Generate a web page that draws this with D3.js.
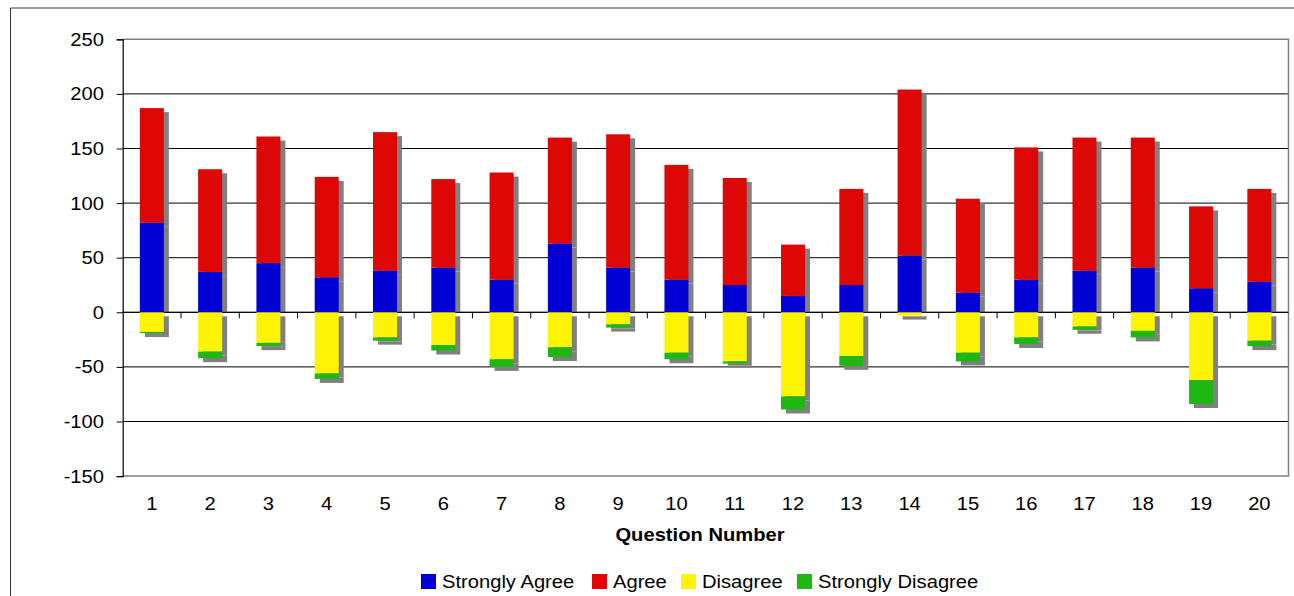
<!DOCTYPE html>
<html>
<head>
<meta charset="utf-8">
<script src="https://cdn.jsdelivr.net/npm/d3@7"></script>
<style>
  html, body { margin: 0; padding: 0; background: #fff; }
  svg { display: block; font-family: "Liberation Sans", Arial, sans-serif; }
</style>
</head>
<body>
<svg id="chart" width="1294" height="596"></svg>
<script>
// Survey responses per question
const questions = ["1","2","3","4","5","6","7","8","9","10","11","12","13","14","15","16","17","18","19","20"];
const stronglyAgree    = [82, 37, 45, 32, 38, 41, 30, 63, 41, 30, 25, 15, 25, 52, 18, 30, 38, 41, 22, 28];
const agree            = [105, 94, 116, 92, 127, 81, 98, 97, 122, 105, 98, 47, 88, 152, 86, 121, 122, 119, 75, 85];
const disagree         = [18, 36, 28, 56, 23, 30, 43, 32, 11, 37, 45, 77, 40, 3, 37, 23, 13, 17, 62, 26];
const stronglyDisagree = [1, 6, 3, 5, 3, 5, 7, 9, 3, 6, 2, 12, 9, 0, 8, 6, 3, 6, 22, 5];
const yTicks = [250, 200, 150, 100, 50, 0, -50, -100, -150];
const seriesNames  = ["Strongly Agree", "Agree", "Disagree", "Strongly Disagree"];
const seriesColors = ["#0000D4", "#DD0806", "#FCF305", "#1FB714"];

const svg = d3.select("#chart");
const plot = { left: 122.7, right: 1288.5, top: 39.3, bottom: 476.1 };
const FONT = 18.5, WIDEN = 1.09;

// Text helper: places a label and widens it slightly horizontally
function label(parent, x, y, str, anchor, bold) {
  return parent.append("text")
    .attr("transform", `translate(${x},${y}) scale(${WIDEN},1)`)
    .attr("text-anchor", anchor || "start")
    .attr("font-size", FONT)
    .attr("font-weight", bold ? "bold" : "normal")
    .attr("fill", "#000")
    .text(str);
}

const x = d3.scaleBand().domain(questions).range([plot.left, plot.right])
  .paddingInner(0.588).paddingOuter(0.294);
const y = d3.scaleLinear().domain([-150, 250]).range([plot.bottom, plot.top]);
const y0 = y(0);

// Outer frame
svg.append("line").attr("x1", 10.5).attr("x2", 1294).attr("y1", 8).attr("y2", 8)
  .attr("stroke", "#808080").attr("stroke-width", 1.5);
svg.append("line").attr("x1", 10.5).attr("x2", 10.5).attr("y1", 8).attr("y2", 596)
  .attr("stroke", "#333").attr("stroke-width", 1);

// Gridlines
svg.append("g").selectAll("line").data(yTicks.filter(v => v !== 250 && v !== -150)).join("line")
  .attr("x1", plot.left).attr("x2", plot.right)
  .attr("y1", d => y(d)).attr("y2", d => y(d))
  .attr("stroke", "#000").attr("stroke-width", 1);

// Plot border (top, right, bottom)
svg.append("path")
  .attr("d", `M${plot.left},${plot.top}H${plot.right}V${plot.bottom}H${plot.left}`)
  .attr("fill", "none").attr("stroke", "#808080").attr("stroke-width", 1.5);

// Stacked segments
const rows = questions.map((q, i) => {
  const sa = stronglyAgree[i], a = agree[i], d = disagree[i], sd = stronglyDisagree[i];
  return [
    { q, s: 0, lo: 0, hi: sa },
    { q, s: 1, lo: sa, hi: sa + a },
    { q, s: 2, lo: -d, hi: 0 },
    { q, s: 3, lo: -d - sd, hi: -d }
  ];
}).flat().filter(r => r.hi !== r.lo);

const bw = x.bandwidth();
const dx = 5, dy = 4;

// Drop shadows: positive stack shadow stops at the zero line
svg.append("clipPath").attr("id", "above0").append("rect")
  .attr("x", 0).attr("y", 0).attr("width", 1294).attr("height", y0);
const shadows = svg.append("g");
shadows.append("g").attr("clip-path", "url(#above0)").selectAll("rect")
  .data(rows.filter(r => r.s < 2)).join("rect")
  .attr("x", r => x(r.q) + dx).attr("y", r => y(r.hi) + dy)
  .attr("width", bw).attr("height", r => y(r.lo) - y(r.hi))
  .attr("fill", "#808080");
shadows.append("g").selectAll("rect")
  .data(rows.filter(r => r.s >= 2)).join("rect")
  .attr("x", r => x(r.q) + dx).attr("y", r => y(r.hi) + dy)
  .attr("width", bw).attr("height", r => y(r.lo) - y(r.hi))
  .attr("fill", "#808080");

// Zero line
svg.append("line").attr("x1", plot.left).attr("x2", plot.right)
  .attr("y1", y0).attr("y2", y0).attr("stroke", "#000").attr("stroke-width", 1);

// Bars
svg.append("g").selectAll("rect").data(rows).join("rect")
  .attr("x", r => x(r.q)).attr("y", r => y(r.hi))
  .attr("width", bw).attr("height", r => y(r.lo) - y(r.hi))
  .attr("fill", r => seriesColors[r.s]);

// Y axis line and ticks
const yAxis = svg.append("g").attr("transform", `translate(${plot.left},0)`)
  .call(d3.axisLeft(y).tickValues(yTicks).tickSize(6).tickFormat(""));
yAxis.select(".domain").attr("stroke", "#000").attr("stroke-width", 1.2);
yAxis.selectAll(".tick line").attr("stroke", "#000");
const yLabels = svg.append("g");
yTicks.forEach(v => label(yLabels, 104, y(v) + 6.5, String(v), "end"));

// Category separators on the zero line
const edges = questions.map(q => x(q) - x.step() * x.paddingInner() / 2).slice(1);
svg.append("g").selectAll("line").data(edges).join("line")
  .attr("x1", d => d).attr("x2", d => d).attr("y1", y0).attr("y2", y0 + 6)
  .attr("stroke", "#000").attr("stroke-width", 1);

// X category labels
const xLabels = svg.append("g");
questions.forEach(q => label(xLabels, x(q) + bw / 2, 510, q, "middle"));

// Axis title
label(svg, 700, 540.5, "Question Number", "middle", true);

// Legend
const legendX = [421, 592, 681, 797];
const legend = svg.append("g");
seriesNames.forEach((name, i) => {
  legend.append("rect").attr("x", legendX[i]).attr("y", 574)
    .attr("width", 15).attr("height", 15).attr("fill", seriesColors[i]);
  label(legend, legendX[i] + 21, 588, name, "start");
});
</script>
</body>
</html>
